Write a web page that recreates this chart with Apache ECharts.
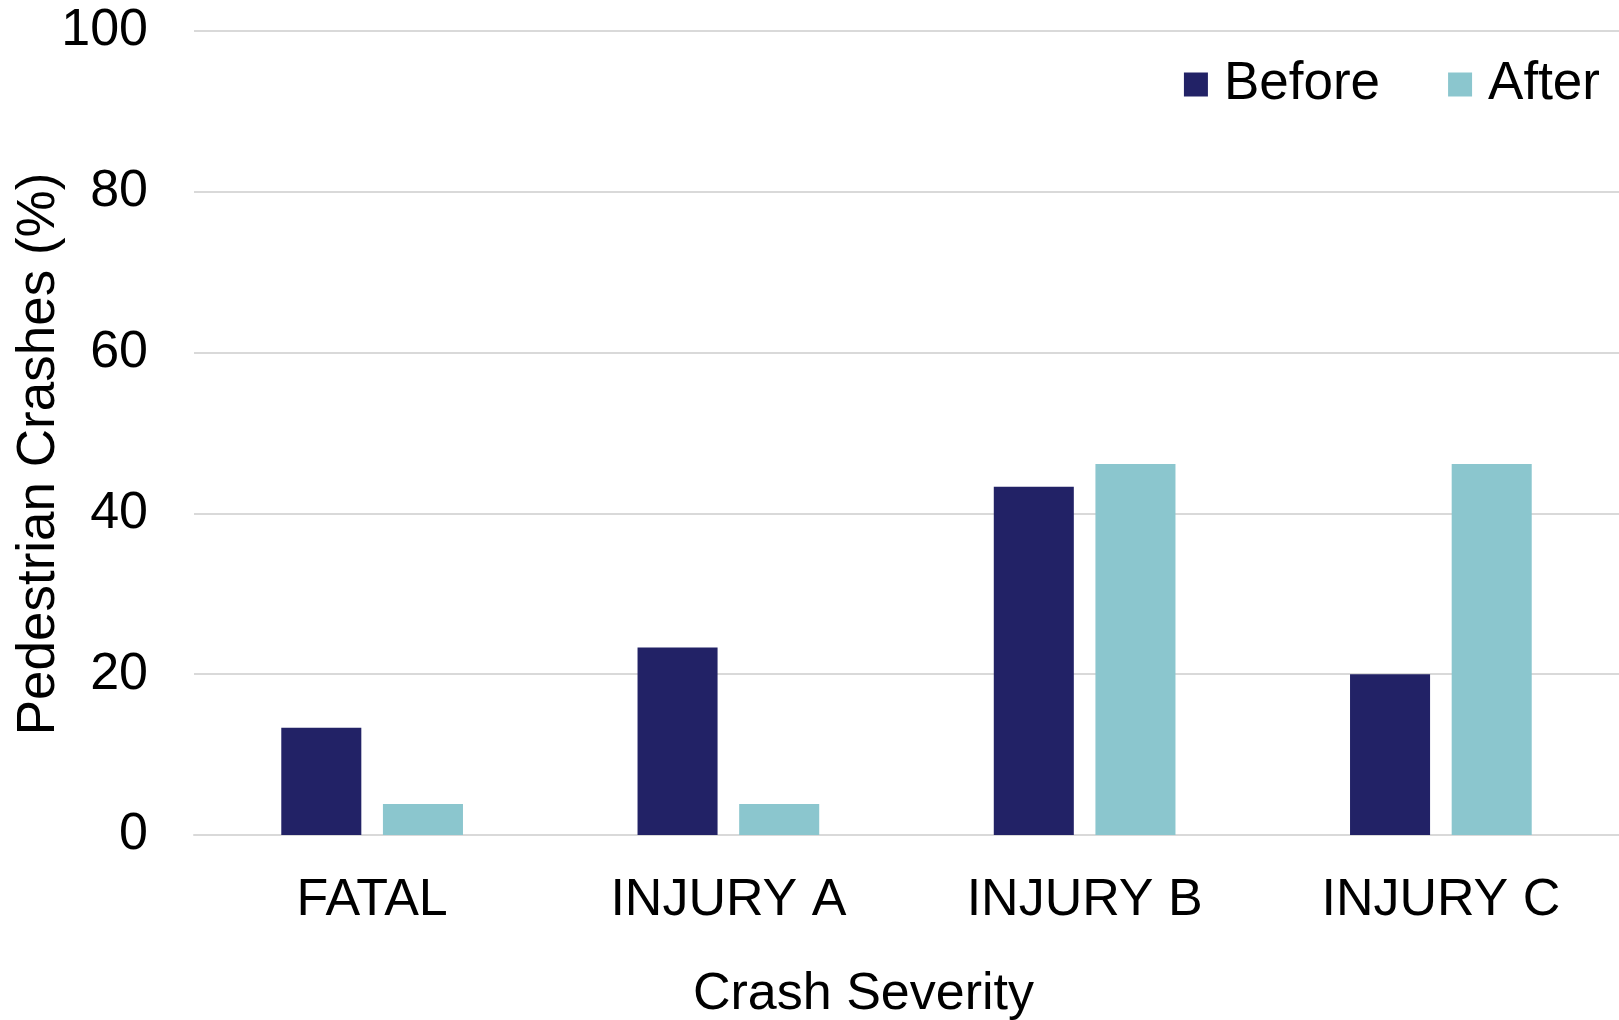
<!DOCTYPE html>
<html>
<head>
<meta charset="utf-8">
<script src="https://cdn.jsdelivr.net/npm/echarts@6/dist/echarts.min.js"></script>
<style>
  html, body { margin: 0; padding: 0; background: #ffffff; overflow: hidden; }
  #chart { width: 1619px; height: 1020px; }
</style>
</head>
<body>
<div id="chart"></div>
<script>
// Share of pedestrian crashes by severity, before and after treatment
const categories = ['FATAL', 'INJURY A', 'INJURY B', 'INJURY C'];
const beforeValues = [13.33, 23.33, 43.33, 20.0];
const afterValues = [3.85, 3.85, 46.15, 46.15];
const yTicks = { min: 0, max: 100, interval: 20 };

const FONT = '"Liberation Sans", Arial, sans-serif';
const chart = echarts.init(document.getElementById('chart'));

chart.setOption({
  backgroundColor: '#ffffff',
  animation: false,
  textStyle: { fontFamily: FONT, color: '#000000' },
  legend: {
    right: 14,
    top: 53,
    itemWidth: 24,
    itemHeight: 24,
    itemGap: 68,
    icon: 'rect',
    textStyle: { fontFamily: FONT, fontSize: 53, color: '#000000', padding: [0, 0, 0, 11] },
    data: ['Before', 'After']
  },
  grid: { left: 194, right: 0, top: 31, bottom: 185, containLabel: false, outerBoundsMode: 'none' },
  xAxis: {
    type: 'category',
    data: categories,
    name: 'Crash Severity',
    nameLocation: 'middle',
    nameGap: 134,
    nameTextStyle: { fontFamily: FONT, fontSize: 52, color: '#000000', padding: [0, 86, 0, 0] },
    axisLine: { show: true, lineStyle: { color: '#d9d9d9', width: 2 } },
    axisTick: { show: false },
    axisLabel: { fontFamily: FONT, fontSize: 52, color: '#000000', margin: 40 }
  },
  yAxis: {
    type: 'value',
    min: yTicks.min,
    max: yTicks.max,
    interval: yTicks.interval,
    name: 'Pedestrian Crashes (%)',
    nameLocation: 'middle',
    nameGap: 128,
    nameMoveOverlap: false,
    nameRotate: 90,
    nameTextStyle: { fontFamily: FONT, fontSize: 53, color: '#000000', padding: [0, 42, 0, 0] },
    axisLine: { show: false },
    axisTick: { show: false },
    axisLabel: { fontFamily: FONT, fontSize: 52, color: '#000000', margin: 46 },
    splitLine: { lineStyle: { color: '#d9d9d9', width: 2 } }
  },
  series: [
    {
      name: 'Before',
      type: 'bar',
      data: beforeValues,
      barCategoryGap: '49%',
      barGap: '27%',
      itemStyle: { color: '#222266' }
    },
    {
      name: 'After',
      type: 'bar',
      data: afterValues,
      barCategoryGap: '49%',
      barGap: '27%',
      itemStyle: { color: '#8bc6ce' }
    }
  ]
});
</script>
</body>
</html>
